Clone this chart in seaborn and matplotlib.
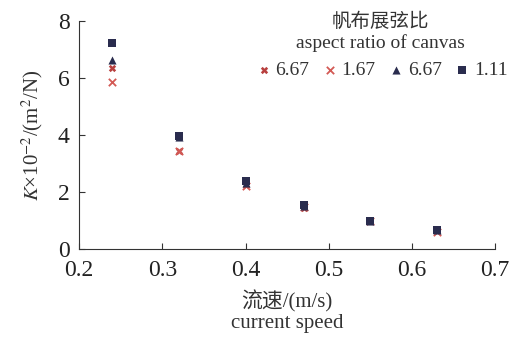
import pandas as pd
import matplotlib.pyplot as plt
import seaborn as sns

# 流速 (m/s)
speed = [0.24, 0.32, 0.40, 0.47, 0.55, 0.63]

# K x 10^-2 /(m^2/N), 帆布展弦比별
k_667a = [6.35, 3.45, 2.25, 1.45, 0.97, 0.62]
k_167 = [5.85, 3.42, 2.22, 1.48, 0.97, 0.60]
k_667b = [6.65, 3.92, 2.33, 1.50, 0.98, 0.66]
k_111 = [7.22, 3.96, 2.38, 1.55, 0.98, 0.68]

labels = ['6.67', '1.67', '6.67', '1.11']

sns.set_style('ticks')
plt.rcParams['font.family'] = ['Liberation Serif', 'Noto Sans CJK SC']
plt.rcParams['mathtext.fontset'] = 'stix'

fig = plt.figure(figsize=(5.11, 3.40), dpi=100)
ax = fig.add_axes([0.155, 0.268, 0.814, 0.670])

series = [k_667a, k_167, k_667b, k_111]
markers = ['X', 'x', '^', 's']
colors = ['#b8403f', '#d35a55', '#2a2c4e', '#2a2c4e']
sizes = [28, 28, 34, 38]
for vals, lab, m, c, s in zip(series, labels, markers, colors, sizes):
    df = pd.DataFrame({'speed': speed, 'k': vals})
    kw = dict(linewidth=1.3) if m == 'x' else dict(linewidth=0)
    sns.scatterplot(data=df, x='speed', y='k', marker=m, color=c, s=s,
                    label=lab, ax=ax, edgecolor=c, **kw)

ax.set_xlim(0.2, 0.7)
ax.set_ylim(0, 8)
ax.set_xticks([0.2, 0.3, 0.4, 0.5, 0.6, 0.7])
ax.set_yticks([0, 2, 4, 6, 8])
ax.tick_params(direction='in', labelsize=17, length=4, color='#333333',
               labelcolor='#222222')
ax.tick_params(axis='x', pad=8)
ax.tick_params(axis='y', pad=7)
for sp in ['left', 'bottom']:
    ax.spines[sp].set_color('#333333')
sns.despine(ax=ax)

ax.set_xlabel('流速/(m/s)\ncurrent speed', fontsize=15, color='#333333',
              linespacing=1.05, labelpad=7)
ax.set_ylabel('$K$×10$^{-2}$/(m$^2$/N)', fontsize=15, color='#333333',
              labelpad=9)

leg = ax.legend(title='帆布展弦比\naspect ratio of canvas', ncol=4,
                loc='upper center', bbox_to_anchor=(0.725, 1.115), frameon=False,
                fontsize=14, title_fontsize=14, handletextpad=0.1,
                columnspacing=0.55, handlelength=1.0, alignment='center')
leg.get_title().set_color('#333333')
leg.get_title().set_multialignment('center')
for t in leg.get_texts():
    t.set_color('#333333')

fig.savefig('out.png', dpi=100)
